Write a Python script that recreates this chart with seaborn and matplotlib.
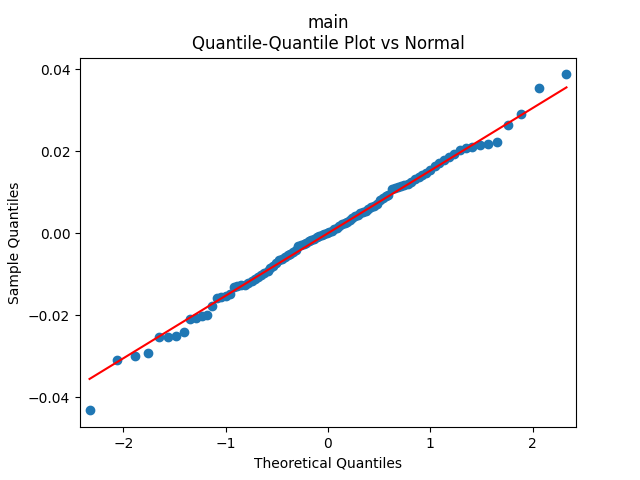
import matplotlib
matplotlib.use("Agg")
import matplotlib.pyplot as plt
import seaborn as sns
import numpy as np

# Theoretical normal quantiles (n = 100)
theoretical_quantiles = [
    -2.330, -2.058, -1.885, -1.755, -1.650, -1.560, -1.481, -1.410, -1.346, -1.287,
    -1.232, -1.180, -1.132, -1.087, -1.043, -1.001, -0.961, -0.922, -0.885, -0.849,
    -0.814, -0.780, -0.746, -0.714, -0.682, -0.651, -0.621, -0.591, -0.562, -0.533,
    -0.505, -0.477, -0.449, -0.422, -0.395, -0.368, -0.342, -0.316, -0.290, -0.264,
    -0.238, -0.213, -0.188, -0.162, -0.137, -0.112, -0.087, -0.062, -0.037, -0.012,
    0.012, 0.037, 0.062, 0.087, 0.112, 0.137, 0.162, 0.188, 0.213, 0.238,
    0.264, 0.290, 0.316, 0.342, 0.368, 0.395, 0.422, 0.449, 0.477, 0.505,
    0.533, 0.562, 0.591, 0.621, 0.651, 0.682, 0.714, 0.746, 0.780, 0.814,
    0.849, 0.885, 0.922, 0.961, 1.001, 1.043, 1.087, 1.132, 1.180, 1.232,
    1.287, 1.346, 1.410, 1.481, 1.560, 1.650, 1.755, 1.885, 2.058, 2.330,
]

# Sorted sample values
sample_quantiles = [
    -0.0432, -0.0310, -0.0299, -0.0293, -0.0254, -0.0252, -0.0250, -0.0240, -0.0208, -0.0206,
    -0.0203, -0.0199, -0.0178, -0.0159, -0.0155, -0.0152, -0.0149, -0.0130, -0.0128, -0.0127,
    -0.0126, -0.0122, -0.0116, -0.0112, -0.0108, -0.0103, -0.0097, -0.0091, -0.0085, -0.0080,
    -0.0072, -0.0066, -0.0062, -0.0058, -0.0054, -0.0051, -0.0047, -0.0042, -0.0032, -0.0029,
    -0.0026, -0.0023, -0.0019, -0.0016, -0.0013, -0.0010, -0.0007, -0.0005, -0.0002, 0.0000,
    0.0002, 0.0006, 0.0010, 0.0013, 0.0018, 0.0022, 0.0025, 0.0028, 0.0032, 0.0037,
    0.0042, 0.0045, 0.0049, 0.0052, 0.0055, 0.0060, 0.0063, 0.0066, 0.0071, 0.0080,
    0.0085, 0.0090, 0.0092, 0.0108, 0.0111, 0.0113, 0.0115, 0.0118, 0.0121, 0.0125,
    0.0131, 0.0137, 0.0141, 0.0146, 0.0155, 0.0163, 0.0172, 0.0178, 0.0185, 0.0193,
    0.0203, 0.0208, 0.0211, 0.0214, 0.0217, 0.0222, 0.0264, 0.0290, 0.0355, 0.0387,
]

# Reference line (standardized): intercept and slope
line_intercept = 0.0
line_slope = 0.01525

title_text = "main\nQuantile-Quantile Plot vs Normal"
xlabel_text = "Theoretical Quantiles"
ylabel_text = "Sample Quantiles"

fig, ax = plt.subplots(figsize=(6.4, 4.8), dpi=100)

sns.scatterplot(x=theoretical_quantiles, y=sample_quantiles, ax=ax,
                color="#1f77b4", edgecolor="#1f77b4", s=36, linewidth=1,
                marker="o", zorder=2)

tq = np.asarray(theoretical_quantiles)
line_x = np.array([tq.min(), tq.max()])
line_y = line_intercept + line_slope * line_x
sns.lineplot(x=line_x, y=line_y, ax=ax, color="red", linewidth=1.5, zorder=3)

ax.set_xmargin(0.02)
ax.set_ymargin(0.05)
ax.autoscale_view()
ax.set_title(title_text)
ax.set_xlabel(xlabel_text)
ax.set_ylabel(ylabel_text)

fig.savefig("out.png", dpi=100)
